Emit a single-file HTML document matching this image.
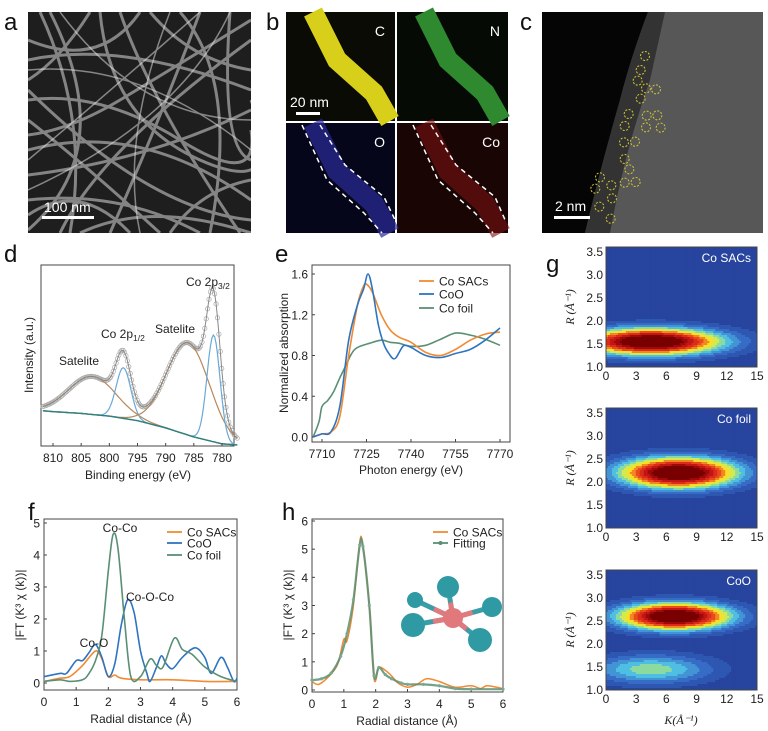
<!DOCTYPE html>
<html><head><meta charset="utf-8"><style>
html,body{margin:0;padding:0;background:#fff;}
svg{display:block;font-family:"Liberation Sans",Arial,sans-serif;}
.t{font-size:12px;fill:#222;}
.lbl{font-size:24px;fill:#111;}
.ax{fill:none;stroke:#444;stroke-width:1;}
</style></head><body>
<svg id="fig" width="768" height="731" viewBox="0 0 768 731">
<defs><clipPath id="clipA"><rect x="28" y="12" width="223" height="221"/></clipPath></defs>
<g>
<text class="lbl" x="4" y="30">a</text>
<rect x="28" y="12" width="223" height="221" fill="#1e1e1e"/>
<g clip-path="url(#clipA)">
<g stroke="#c8c8c8" stroke-width="3" fill="none" opacity="0.6">
<path d="M28 60 Q120 40 251 90"/><path d="M40 12 Q90 120 70 233"/><path d="M28 150 Q140 120 251 200"/>
<path d="M120 12 Q150 100 240 233"/><path d="M28 200 Q120 190 200 233"/><path d="M200 12 Q160 120 110 233"/>
<path d="M28 100 Q100 90 180 140 T251 130"/><path d="M60 233 Q100 150 251 40"/><path d="M150 12 Q190 60 251 70"/>
<path d="M28 120 Q80 160 160 233"/><path d="M90 12 Q60 60 28 80"/><path d="M230 12 Q220 150 251 160"/>
<path d="M28 175 Q150 160 251 110"/><path d="M170 233 Q200 190 251 180"/>
<path d="M28 40 Q100 70 140 12"/><path d="M50 12 Q120 150 28 230"/><path d="M28 90 Q150 210 251 220"/>
<path d="M100 12 Q110 120 200 160 T251 100"/><path d="M28 215 Q80 180 130 233"/><path d="M180 12 Q240 80 210 233"/>
<path d="M28 135 Q70 130 120 100 T251 20"/><path d="M80 233 Q150 200 251 233"/>
</g>
<g stroke="#eee" stroke-width="1.5" fill="none" opacity="0.5">
<path d="M28 70 Q140 60 251 150"/><path d="M60 12 Q140 120 251 120"/><path d="M28 190 Q180 120 230 12"/>
<path d="M140 233 Q120 140 170 12"/><path d="M28 160 Q100 100 200 12"/>
</g>
</g>
<rect x="42" y="216" width="52" height="3" fill="#fff"/>
<text x="44" y="212" style="font-size:14px;fill:#fff">100 nm</text>
</g>
<g>
<text class="lbl" x="266" y="30">b</text>
<rect x="286" y="12" width="109" height="109" fill="#0b0b05"/>
<rect x="397" y="12" width="111" height="109" fill="#050a05"/>
<rect x="286" y="123" width="109" height="110" fill="#06061a"/>
<rect x="397" y="123" width="111" height="110" fill="#1a0505"/>
<path d="M313 12 L337 60 L374 93 L390 121" stroke="#d8cf1a" stroke-width="20" fill="none"/>
<path d="M424 12 L448 60 L485 93 L501 121" stroke="#2f8a2f" stroke-width="20" fill="none"/>
<path d="M313 123 L337 171 L374 204 L390 233" stroke="#2b2b9a" stroke-width="20" fill="none" opacity="0.7"/>
<path d="M424 123 L448 171 L485 204 L501 233" stroke="#7a1010" stroke-width="20" fill="none" opacity="0.6"/>
<g stroke="#fff" stroke-width="1.5" stroke-dasharray="5,4" fill="none">
<path d="M302 125 L327 180 L364 213 L382 233"/><path d="M320 125 L345 165 L384 197 L396 222"/>
<path d="M413 125 L438 180 L475 213 L493 233"/><path d="M431 125 L456 165 L495 197 L506 222"/>
</g>
<text x="385" y="36" text-anchor="end" style="font-size:14px;fill:#fff">C</text>
<text x="500" y="36" text-anchor="end" style="font-size:14px;fill:#fff">N</text>
<text x="385" y="147" text-anchor="end" style="font-size:14px;fill:#fff">O</text>
<text x="500" y="147" text-anchor="end" style="font-size:14px;fill:#fff">Co</text>
<text x="290" y="107" style="font-size:14px;fill:#fff">20 nm</text>
<rect x="296" y="112" width="24" height="3" fill="#fff"/>
</g>
<g>
<text class="lbl" x="520" y="30">c</text>
<rect x="542" y="12" width="221" height="221" fill="#575757"/>
<path d="M542 12 L648 12 Q630 60 620 100 Q600 170 585 233 L542 233 Z" fill="#050505"/>
<path d="M648 12 Q630 60 620 100 Q600 170 585 233 L610 233 Q625 150 650 80 L665 12 Z" fill="#333"/>
<g id="circles" fill="none" stroke="#d6c832" stroke-width="1" stroke-dasharray="2,1.5"></g>
<text x="555" y="211" style="font-size:14px;fill:#fff">2 nm</text>
<rect x="554" y="216" width="36" height="3" fill="#fff"/>
</g>
<g id="pd">
<text class="lbl" x="4" y="262">d</text>
</g>
<g id="pe">
<text class="lbl" x="275" y="262">e</text>
</g>
<g id="pf">
<text class="lbl" x="28" y="520">f</text>
</g>
<g id="ph">
<text class="lbl" x="282" y="520">h</text>
</g>
<g id="pg">
<text class="lbl" x="546" y="272">g</text>
</g>
</svg>
<script>
// ---------- Panel d data ----------
const dPeakCenters = [803, 797.5, 786, 781.5];
const dPeakHeights = [0.21, 0.28, 0.51, 0.59];
const dPeakWidths = [4.2, 1.3, 3.8, 1.15];
const dPeakNames = ['satelite-1', 'co-2p12', 'satelite-2', 'co-2p32'];
const dBgEnergy = [812, 810, 805, 800, 795, 790, 785, 780, 777];
const dBgValue = [0.195, 0.19, 0.18, 0.165, 0.14, 0.10, 0.05, 0.012, 0.005];
const dTicks = [810, 805, 800, 795, 790, 785, 780];
// ---------- Panel e data ----------
const eTicksX = [7710, 7725, 7740, 7755, 7770];
const eTicksY = [0.0, 0.4, 0.8, 1.2, 1.6];
const eSacE = [7707,7710,7713,7716,7719,7722,7724,7725,7727,7730,7733,7736,7740,7745,7750,7755,7760,7765,7770];
const eSacV = [0,0.03,0.05,0.2,0.8,1.3,1.48,1.5,1.42,1.2,1.05,0.98,0.93,0.83,0.8,0.86,0.95,1.01,1.03];
const eCooE = [7707,7710,7713,7716,7719,7722,7724,7725.5,7727,7729,7731,7733,7734,7735,7737,7738,7740,7745,7750,7755,7760,7765,7770];
const eCooV = [0,0.03,0.05,0.3,0.95,1.3,1.45,1.6,1.45,1.1,0.9,0.8,0.77,0.78,0.88,0.9,0.88,0.8,0.78,0.82,0.86,0.95,1.07];
const eFoilE = [7707,7709,7710,7712,7714,7716,7718,7720,7722,7726,7730,7733,7736,7740,7745,7750,7755,7760,7765,7770];
const eFoilV = [0,0.15,0.3,0.36,0.45,0.58,0.7,0.82,0.88,0.92,0.95,0.93,0.92,0.89,0.9,0.96,1.02,1.0,0.96,0.9];
// ---------- Panel f data ----------
const fTicksX = [0,1,2,3,4,5,6];
const fTicksY = [0,1,2,3,4,5];
const fSacR = [0,0.5,0.8,1.2,1.6,1.8,2.0,2.2,2.4,3,4,5,6];
const fSacV = [0.05,0.15,0.2,0.55,1.0,0.75,0.2,0.25,0.15,0.1,0.1,0.05,0.05];
const fCooR = [0,0.5,0.7,1.0,1.2,1.4,1.6,1.8,2.0,2.2,2.4,2.6,2.8,3.0,3.2,3.3,3.5,3.65,3.8,4.0,4.3,4.7,5.0,5.2,5.5,5.7,5.9,6];
const fCooV = [0.2,0.3,0.3,0.7,0.7,0.95,1.2,0.8,0.2,0.6,1.8,2.6,2.2,1.0,0.3,0.05,0.5,0.85,0.6,0.45,0.8,1.1,0.8,0.3,0.8,0.5,0.05,0.15];
const fFoilR = [0,0.5,0.8,1.2,1.4,1.6,1.8,2.0,2.15,2.3,2.5,2.7,3.0,3.3,3.5,3.7,4.05,4.3,4.6,5.0,5.5,6];
const fFoilV = [0.05,0.1,0.05,0.1,0.3,0.7,1.5,3.5,4.65,4.2,2.0,0.2,0.2,0.75,0.55,0.5,1.4,1.05,0.9,0.5,0.2,0.05];
// ---------- Panel h data ----------
const hTicksX = [0,1,2,3,4,5,6];
const hTicksY = [0,1,2,3,4,5,6];
const hSacR = [0,0.2,0.5,0.8,1.0,1.1,1.3,1.5,1.6,1.8,1.95,2.1,2.3,2.5,2.7,3.0,3.3,3.6,4.0,4.5,5.0,5.3,5.5,6];
const hSacV = [0.3,0.2,0.45,0.9,1.8,1.75,3.0,5.25,5.1,3.0,0.4,0.8,0.7,0.5,0.25,0.1,0.2,0.4,0.3,0.1,0.15,0.05,0.15,0.05];
const hFitR = [0,0.3,0.6,0.9,1.1,1.3,1.5,1.6,1.8,1.95,2.1,2.3,2.5,2.8,3.0,3.5,4.0,4.5,5,6];
const hFitV = [0.35,0.4,0.6,1.2,2.0,3.2,5.15,5.1,3.0,0.5,0.8,0.55,0.4,0.25,0.2,0.2,0.15,0.05,0.03,0.03];
// ---------- Panel g data ----------
const gTitles = ['Co SACs', 'Co foil', 'CoO'];
const gBlobK = [[4.5], [7.2], [6.8, 4.5]];
const gBlobR = [[1.55], [2.2], [2.6, 1.45]];
const gBlobAmp = [[1.0], [1.0], [1.0, 0.35]];
const gBlobSk = [[4.8], [4.0], [3.8, 4.2]];
const gBlobSr = [[0.2], [0.23], [0.2, 0.22]];
const gTicksK = [0,3,6,9,12,15];
const gTicksR = [1.0,1.5,2.0,2.5,3.0,3.5];
// ---------- Panel c circles ----------
const cCircX = [315,302,293,318,348,302,266,320,352,254,318,362,252,285,254,268,180,214,166,254,287,216,178,212];
const cCircY = [168,210,242,265,268,296,342,347,346,378,382,383,427,425,477,508,532,556,566,548,546,595,620,656];

const NS = 'http://www.w3.org/2000/svg';
function mk(tag, attrs, parent){const e=document.createElementNS(NS,tag);for(const k in attrs)e.setAttribute(k,attrs[k]);parent.appendChild(e);return e;}
function txt(parent,x,y,s,attrs){const e=mk('text',Object.assign({x:x,y:y,class:'t'},attrs||{}),parent);e.textContent=s;return e;}
function pathFrom(xs,ys,sx,sy){let d='';for(let i=0;i<xs.length;i++)d+=(i?'L':'M')+sx(xs[i]).toFixed(1)+' '+sy(ys[i]).toFixed(1);return d;}
function smoothPath(xs,ys,sx,sy){const P=xs.map((x,i)=>[sx(x),sy(ys[i])]);let d='M'+P[0][0].toFixed(1)+' '+P[0][1].toFixed(1);
 for(let i=0;i<P.length-1;i++){const p0=P[i-1]||P[i],p1=P[i],p2=P[i+1],p3=P[i+2]||p2;
 const c1=[p1[0]+(p2[0]-p0[0])/6,p1[1]+(p2[1]-p0[1])/6],c2=[p2[0]-(p3[0]-p1[0])/6,p2[1]-(p3[1]-p1[1])/6];
 d+='C'+c1[0].toFixed(1)+' '+c1[1].toFixed(1)+' '+c2[0].toFixed(1)+' '+c2[1].toFixed(1)+' '+p2[0].toFixed(1)+' '+p2[1].toFixed(1);}return d;}

const cg=document.getElementById('circles');
for(let i=0;i<cCircX.length;i++){const c=mk('circle',{cx:540+cCircX[i]/3,cy:cCircY[i]/3,r:4.5},cg);

}

function frame(g,x0,y0,x1,y1,name){const r=mk('rect',{x:x0,y:y0,width:x1-x0,height:y1-y0,class:'ax'},g);

}
function xticks(g,ticks,sx,yb,fmt,fs){ticks.forEach(t=>{mk('line',{x1:sx(t),x2:sx(t),y1:yb,y2:yb-3,stroke:'#444'},g);
const e=txt(g,sx(t),yb+16,fmt?fmt(t):String(t),{'text-anchor':'middle','font-size':fs||13});

});}
function yticks(g,ticks,sy,xl,fmt,fs){ticks.forEach(t=>{mk('line',{x1:xl,x2:xl+3,y1:sy(t),y2:sy(t),stroke:'#444'},g);
const e=txt(g,xl-4,sy(t)+4.5,fmt?fmt(t):String(t),{'text-anchor':'end','font-size':fs||13});

});}
function legend(g,x,y,color,label,dots){mk('line',{x1:x,x2:x+15,y1:y,y2:y,stroke:color,'stroke-width':1.8},g);
if(dots)mk('circle',{cx:x+7.5,cy:y,r:2,fill:color},g);
const e=txt(g,x+20,y+4.5,label,{'font-size':12.5});

}
function subLabel(g,x,y,main,sub){const e=txt(g,x,y,main,{'font-size':12.5});
const ts=document.createElementNS(NS,'tspan');ts.setAttribute('font-size','8.5');ts.setAttribute('dy','3');ts.textContent=sub;e.appendChild(ts);

}

(function(){const g=document.getElementById('pd');
const sx=v=>53+(810-v)*(169/30), sy=v=>446-v*181;
frame(g,41,265,234,446,'plot-area');
const bg=E=>{for(let i=0;i<dBgEnergy.length-1;i++){if(E<=dBgEnergy[i]&&E>=dBgEnergy[i+1]){const t=(dBgEnergy[i]-E)/(dBgEnergy[i]-dBgEnergy[i+1]);return dBgValue[i]+(dBgValue[i+1]-dBgValue[i])*t;}}return 0;};
const Es=[];for(let E=811.8;E>=777.2;E-=0.25)Es.push(E);
const comp=(j,E)=>dPeakHeights[j]*Math.exp(-0.5*Math.pow((E-dPeakCenters[j])/dPeakWidths[j],2));
const env=Es.map(E=>{let s=bg(E);for(let j=0;j<4;j++)s+=comp(j,E);return s;});
const pts=mk('g',{fill:'none',stroke:'#aaa','stroke-width':0.7},g);


for(let i=0;i<Es.length;i+=1)mk('circle',{cx:sx(Es[i]),cy:sy(env[i]),r:2.2},pts);
for(let j=0;j<4;j++){const ys=Es.map(E=>bg(E)+comp(j,E));
const p=mk('path',{d:pathFrom(Es,ys,sx,sy),fill:'none',stroke:(j%2?'#6aa9d6':'#b8875a'),'stroke-width':1.2},g);

}
const b=mk('path',{d:pathFrom(Es,Es.map(bg),sx,sy),fill:'none',stroke:'#2f7f7a','stroke-width':1.4},g);


const en=mk('path',{d:pathFrom(Es,env,sx,sy),fill:'none',stroke:'#888','stroke-width':1},g);


xticks(g,dTicks,sx,446);
const xt=txt(g,138,479,'Binding energy (eV)',{'text-anchor':'middle','font-size':13});


const yt=txt(g,0,0,'Intensity (a.u.)',{'text-anchor':'middle','font-size':13,transform:'translate(33,355) rotate(-90)'});


txt(g,59,365,'Satelite',{'font-size':12});
subLabel(g,101,338,'Co 2p','1/2');
txt(g,155,333,'Satelite',{'font-size':12});
subLabel(g,186,286,'Co 2p','3/2');
})();

(function(){const g=document.getElementById('pe');
const sx=E=>322+(E-7710)*(178/60), sy=v=>437-v*(163/1.6);
frame(g,312,265,510,442,'plot-area');
xticks(g,eTicksX,sx,442);yticks(g,eTicksY,sy,312,t=>t.toFixed(1));
[[eFoilE,eFoilV,'#5a8f74','co-foil-line'],[eSacE,eSacV,'#f08a33','co-sacs-line'],[eCooE,eCooV,'#2f74bf','coo-line']].forEach(s=>{
const p=mk('path',{d:smoothPath(s[0],s[1],sx,sy),fill:'none',stroke:s[2],'stroke-width':1.6},g);

});
legend(g,419,281,'#f08a33','Co SACs');legend(g,419,294,'#2f74bf','CoO');legend(g,419,308,'#5a8f74','Co foil');
const xt=txt(g,411,474,'Photon energy (eV)',{'text-anchor':'middle','font-size':13});


const yt=txt(g,0,0,'Normalized absorption',{'text-anchor':'middle','font-size':13,transform:'translate(288,353) rotate(-90)'});


})();

(function(){const g=document.getElementById('pf');
const sx=R=>44+R*(193/6), sy=v=>683-v*32;
frame(g,44,519,237,690,'plot-area');
xticks(g,fTicksX,sx,690);yticks(g,fTicksY,sy,44);
[[fSacR,fSacV,'#f08a33','co-sacs-line'],[fCooR,fCooV,'#2f74bf','coo-line'],[fFoilR,fFoilV,'#5a8f74','co-foil-line']].forEach(s=>{
const p=mk('path',{d:smoothPath(s[0],s[1],sx,sy),fill:'none',stroke:s[2],'stroke-width':1.6},g);

});
legend(g,167,532,'#f08a33','Co SACs');legend(g,167,543,'#2f74bf','CoO');legend(g,167,555,'#5a8f74','Co foil');
txt(g,120,532,'Co-Co',{'text-anchor':'middle','font-size':12});
txt(g,150,601,'Co-O-Co',{'text-anchor':'middle','font-size':12});
txt(g,94,647,'Co-O',{'text-anchor':'middle','font-size':12});
const xt=txt(g,141,723,'Radial distance (Å)',{'text-anchor':'middle','font-size':13});


const yt=txt(g,0,0,'|FT (K³ χ (k))|',{'text-anchor':'middle','font-size':13,transform:'translate(24,605) rotate(-90)'});


})();

(function(){const g=document.getElementById('ph');
const sx=R=>312+R*(191/6), sy=v=>690-v*(169/6);
frame(g,312,519,503,692,'plot-area');
xticks(g,hTicksX,sx,692);yticks(g,hTicksY,sy,312);
const p1=mk('path',{d:smoothPath(hSacR,hSacV,sx,sy),fill:'none',stroke:'#f08a33','stroke-width':1.5},g);


const p2=mk('path',{d:smoothPath(hFitR,hFitV,sx,sy),fill:'none',stroke:'#5a8f74','stroke-width':2.2,opacity:0.85},g);


for(let i=0;i<hFitR.length;i++){mk('circle',{cx:sx(hFitR[i]),cy:sy(hFitV[i]),r:1.6,fill:'#7aa890'},g);}
legend(g,433,532,'#f08a33','Co SACs');legend(g,433,543,'#5a8f74','Fitting',true);
const xt=txt(g,407,725,'Radial distance (Å)',{'text-anchor':'middle','font-size':13});


const yt=txt(g,0,0,'|FT (K³ χ (k))|',{'text-anchor':'middle','font-size':13,transform:'translate(292,605) rotate(-90)'});


const m=mk('g',{},g);


const cx=453,cy=618;
const balls=[[448,587,11],[415,600,8],[492,607,10],[413,625,12],[480,640,12]];
balls.forEach(b=>{mk('line',{x1:cx,y1:cy,x2:b[0],y2:b[1],stroke:'#3a9ea6','stroke-width':5},m);
mk('line',{x1:cx,y1:cy,x2:(cx+b[0])/2,y2:(cy+b[1])/2,stroke:'#e07a7e','stroke-width':5},m);});
mk('circle',{cx:cx,cy:cy,r:10,fill:'#e0787c'},m);
balls.forEach(b=>mk('circle',{cx:b[0],cy:b[1],r:b[2],fill:'#2f9aa3'},m));
})();

const cmStops=[[0,[30,45,120]],[0.2,[40,70,160]],[0.32,[55,110,200]],[0.45,[80,200,230]],[0.55,[200,235,90]],[0.62,[250,230,40]],[0.72,[240,90,30]],[0.85,[210,25,25]],[1,[120,0,0]]];
function cmap(v){v=Math.max(0,Math.min(1,v));for(let i=0;i<cmStops.length-1;i++){const a=cmStops[i],b=cmStops[i+1];if(v<=b[0]){const t=(v-a[0])/(b[0]-a[0]);
return 'rgb('+a[1].map((c,j)=>Math.round(c+(b[1][j]-c)*t)).join(',')+')';}}return 'rgb(120,0,0)';}
(function(){const g=document.getElementById('pg');
const boxes=[[247,367],[408,528],[570,690]];
const x0=606,x1=757;
boxes.forEach((bx,p)=>{const y0=bx[0],y1=bx[1];
const sk=k=>x0+k*(x1-x0)/15, sr=R=>y1-(R-1.0)*((y1-y0)/2.61);
const pg=mk('g',{},g);


const nx=76,ny=60;
for(let i=0;i<nx;i++)for(let j=0;j<ny;j++){const k=(i+0.5)*15/nx,R=3.61-(j+0.5)*2.61/ny;
let v=0.16;for(let b=0;b<gBlobK[p].length;b++){v+=gBlobAmp[p][b]*Math.exp(-0.5*(Math.pow((k-gBlobK[p][b])/gBlobSk[p][b],2)+Math.pow((R-gBlobR[p][b])/gBlobSr[p][b],2)));}
v=Math.round(Math.min(v,1)*16)/16;
mk('rect',{x:(x0+i*(x1-x0)/nx).toFixed(2),y:(y0+j*(y1-y0)/ny).toFixed(2),width:((x1-x0)/nx+0.4).toFixed(2),height:((y1-y0)/ny+0.4).toFixed(2),fill:cmap(v)},pg);}
frame(g,x0,y0,x1,y1,'plot-area');
gTicksK.forEach(t=>{const e=txt(g,sk(t),y1+13,String(t),{'text-anchor':'middle','font-size':11});

});
gTicksR.forEach(t=>{const e=txt(g,603,sr(t)+4,t.toFixed(1),{'text-anchor':'end','font-size':11});

});
const yt=txt(g,0,0,'R (Å⁻¹)',{'text-anchor':'middle','font-size':11,'font-style':'italic',transform:'translate(574,'+((y0+y1)/2)+') rotate(-90)',style:'font-family:Liberation Serif,serif'});


const tt=txt(g,x1-6,y0+15,gTitles[p],{'text-anchor':'end','font-size':12,style:'fill:#fff'});


});
const kt=txt(g,681,724,'K(Å⁻¹)',{'text-anchor':'middle','font-size':12,'font-style':'italic',style:'font-family:Liberation Serif,serif'});


})();
</script>
</body></html>
